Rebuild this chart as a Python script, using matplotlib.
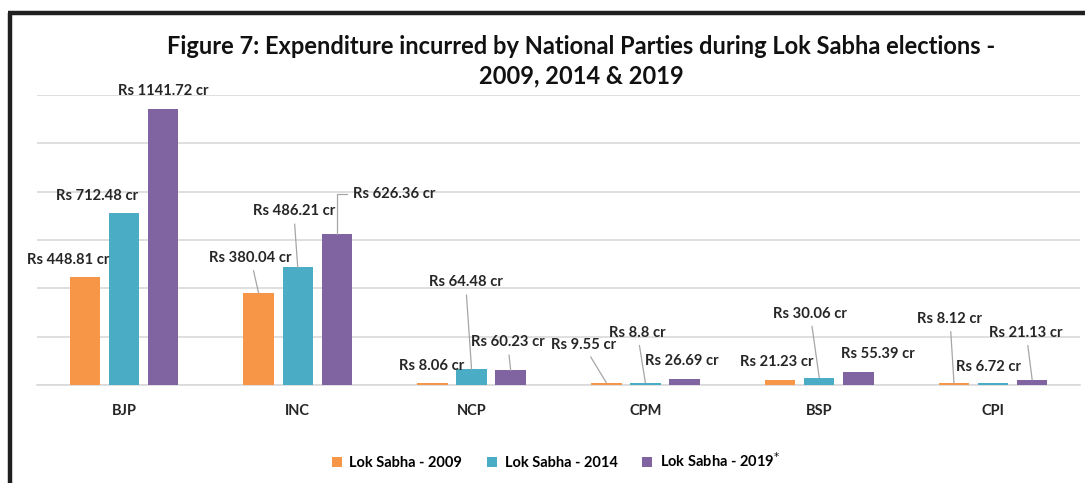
"""Expenditure by national parties during Lok Sabha elections, grouped bars."""

import matplotlib
import matplotlib.pyplot as plt
import numpy as np
from matplotlib.lines import Line2D
from matplotlib.patches import Patch

matplotlib.use('Agg')

parties = ['BJP', 'INC', 'NCP', 'CPM', 'BSP', 'CPI']
series_names = ['Lok Sabha - 2009', 'Lok Sabha - 2014', 'Lok Sabha - 2019$^{*}$']
spend_2009 = [448.81, 380.04, 8.06, 9.55, 21.23, 8.12]
spend_2014 = [712.48, 486.21, 64.48, 8.8, 30.06, 6.72]
spend_2019 = [1141.72, 626.36, 60.23, 26.69, 55.39, 21.13]

colors = ['#F79646', '#4BACC6', '#8064A2']
font = ['Lato', 'DejaVu Sans']

# label offsets in pixels from bar top (dx, dy) and whether a leader line is drawn
label_offsets = [
    [(-17, 17, False), (-8, 35, True), (-1, 17, False), (-23, 38, True), (-3, 18, False), (-4, 64, True)],
    [(-27, 17, False), (-4, 56, True), (-6, 87, True), (-8, 50, True), (-9, 64, True), (-5, 16, False)],
    [(0, 18, False), (57, 40, 'elbow'), (-3, 28, True), (-3, 18, False), (20, 18, False), (-6, 47, True)],
]

fig = plt.figure(figsize=(10.85, 4.83), dpi=100)
ax = fig.add_axes([37 / 1085, 98 / 483, 1043 / 1085, 290 / 483])

x = np.arange(len(parties))
width = 0.175
step = 0.225
all_series = [spend_2009, spend_2014, spend_2019]

for s, values in enumerate(all_series):
    xs = x + (s - 1) * step
    ax.bar(xs, values, width, color=colors[s], zorder=3)
    for i, v in enumerate(values):
        dx, dy, leader = label_offsets[s][i]
        text = f'Rs {v:g} cr'
        kw = dict(xy=(xs[i], v), xytext=(dx, dy), textcoords='offset pixels',
                  ha='center', va='center', fontsize=10.6, fontweight='bold',
                  family=font, color='#262626', annotation_clip=False, zorder=5)
        if leader == 'elbow':
            kw['arrowprops'] = dict(arrowstyle='-', color='#a6a6a6', lw=0.9,
                                    shrinkA=2, shrinkB=0,
                                    connectionstyle='angle,angleA=0,angleB=90,rad=0')
        elif leader:
            kw['arrowprops'] = dict(arrowstyle='-', color='#a6a6a6', lw=0.9,
                                    shrinkA=2, shrinkB=0)
        ax.annotate(text, **kw)

ax.set_xlim(-0.5, len(parties) - 0.5)
ax.set_ylim(0, 1200)
ax.set_yticks(np.arange(0, 1201, 200))
ax.yaxis.grid(True, color='#d9d9d9', lw=1.2, zorder=0)
ax.tick_params(axis='y', left=False, labelleft=False)
ax.tick_params(axis='x', length=0, pad=14)
ax.set_xticks(x)
ax.set_xticklabels(parties, fontsize=10.5, fontweight='bold', family=font, color='#262626')
for side in ['top', 'right', 'left']:
    ax.spines[side].set_visible(False)
ax.spines['bottom'].set_color('#d9d9d9')
ax.spines['bottom'].set_linewidth(1.2)

fig.text(581 / 1085, 1 - 47 / 483, 'Figure 7: Expenditure incurred by National Parties during Lok Sabha elections -',
         ha='center', va='center', fontsize=17, fontweight='bold', family=font, color='#111111')
fig.text(581 / 1085, 1 - 76 / 483, '2009, 2014 & 2019',
         ha='center', va='center', fontsize=17, fontweight='bold', family=font, color='#111111')

handles = [Patch(facecolor=c, edgecolor='none') for c in colors]
fig.legend(handles, series_names, loc='center', bbox_to_anchor=(556 / 1085, 1 - 461 / 483),
           ncol=3, frameon=False, handlelength=0.7, handleheight=0.7, handletextpad=0.5,
           columnspacing=1.7, prop=dict(family=font, size=10.5, weight='bold'))

# dark frame on the left and top edges
fig.add_artist(Line2D([10 / 1085, 10 / 1085], [0, 1 - 13 / 483], color='#1f1f1f', lw=3.2,
                      transform=fig.transFigure, solid_capstyle='butt'))
fig.add_artist(Line2D([8 / 1085, 1], [1 - 13 / 483, 1 - 13 / 483], color='#1f1f1f', lw=3.2,
                      transform=fig.transFigure, solid_capstyle='butt'))

fig.savefig('out.png', dpi=100)
plt.close(fig)
